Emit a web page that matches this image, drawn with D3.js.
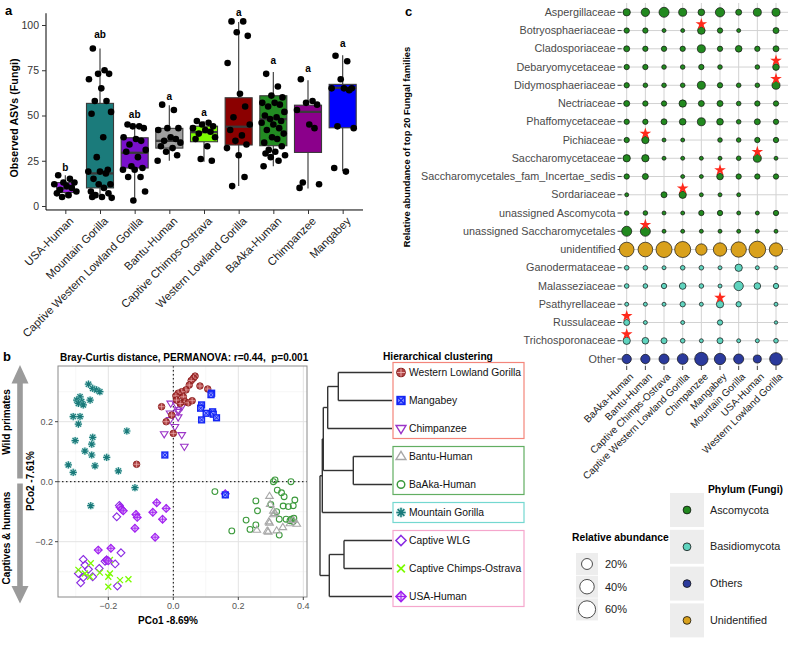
<!DOCTYPE html>
<html><head><meta charset="utf-8">
<script src="https://d3js.org/d3.v7.min.js"></script>
<style>html,body{margin:0;padding:0;background:#fff;}svg{display:block;}</style>
</head><body>
<svg id="fig" width="788" height="649" xmlns="http://www.w3.org/2000/svg"></svg>
<script>
const FONT = '"Liberation Sans", Arial, Helvetica, sans-serif';

// ================= DATA: panel a =================
const groupsA = ["USA-Human","Mountain Gorilla","Captive Western Lowland Gorilla","Bantu-Human","Captive Chimps-Ostrava","Western Lowland Gorilla","BaAka-Human","Chimpanzee","Mangabey"];
const q1A  = [7.5, 10, 21, 32, 35.5, 33.7, 33.3, 29.6, 43.2];
const medA = [9.7, 18, 29.4, 36, 40.8, 43.8, 48, 52, 65.3];
const q3A  = [12.9, 56.7, 37.7, 42.9, 44.1, 59.8, 60.9, 55.7, 67.2];
const loA  = [5, 5, 2.5, 25, 24.5, 11, 22, 9.7, 19.3];
const hiA  = [17, 87, 45.6, 55.7, 47, 101.7, 74, 69.5, 83.3];
const lettersA = ["b","ab","ab","a","a","a","a","a","a"];
const letterYA = [21.5, 95, 51, 61, 52, 107, 80.6, 76, 89.8];
const pointsA = [
  [17, 15, 13, 13, 12, 11, 10, 9, 8, 7, 6, 5],
  [87, 75, 73, 73, 70, 65, 58, 58, 52, 51, 38, 27, 20, 19, 19, 18, 15, 12, 12, 10, 8, 7, 6, 5, 5, 4.5],
  [45, 44, 44, 43, 38, 37, 36, 34, 31, 30, 27, 22, 21, 20, 20, 16, 16, 8, 3],
  [56, 53, 43, 43, 42, 38, 37, 36, 35, 33, 32, 30, 28, 25],
  [47, 46, 45, 44, 43, 42, 41, 40, 38, 37, 33, 26, 25],
  [102, 102, 96, 94, 79, 62, 55, 49, 45, 42, 39, 36, 34, 32, 28, 16, 11],
  [73, 66, 61, 60, 57, 57, 56, 55, 52, 50, 49, 48, 47, 46, 45, 43, 42, 40, 38, 37, 35, 33, 31, 30, 29, 28, 27, 25, 22],
  [70, 58, 57, 56, 53, 45, 43, 13, 12, 10],
  [83, 80, 70, 65, 65, 65, 64, 44, 43, 21, 19]
];
const yTicksA = [0, 25, 50, 75, 100];

// ================= DATA: panel b =================
const pcoaGroups = ["Western Lowland Gorilla","Mangabey","Chimpanzee","Bantu-Human","BaAka-Human","Mountain Gorilla","Captive WLG","Captive Chimps-Ostrava","USA-Human"];
const ptsWLG = [[0.067,0.352],[0.062,0.345],[0.055,0.337],[0.049,0.322],[0.082,0.319],[0.106,0.309],[0.039,0.306],[0.026,0.300],[0.015,0.295],[0.008,0.286],[0.031,0.283],[0.036,0.267],[0.046,0.263],[0.058,0.270],[0.021,0.261],[0.010,0.272],[-0.036,0.250],[-0.005,0.222],[-0.022,0.200],[0.000,0.161],[-0.113,0.058]];
const ptsMang = [[0.118,0.295],[0.116,0.290],[0.087,0.256],[0.084,0.245],[0.101,0.228],[0.121,0.233],[0.123,0.225],[0.087,0.206],[0.133,0.213],[-0.026,0.089],[0.160,-0.044]];
const ptsChimp = [[-0.008,0.261],[0.010,0.256],[0.026,0.250],[0.015,0.239],[0.015,0.233],[-0.010,0.228],[0.015,0.215],[-0.010,0.206],[0.005,0.183],[-0.028,0.159],[0.026,0.156],[0.034,0.117]];
const ptsBantu = [[0.296,-0.048],[0.298,-0.075],[0.308,-0.097],[0.308,-0.109],[0.294,-0.133],[0.296,-0.137],[0.257,-0.161],[0.289,-0.164],[0.292,-0.167],[0.318,-0.163],[0.337,-0.152],[0.359,-0.139],[0.380,-0.141],[0.369,-0.128],[0.313,-0.105]];
const ptsBaAka = [[0.313,0.006],[0.308,0.0],[0.362,0.0],[0.128,-0.033],[0.320,-0.028],[0.333,-0.037],[0.341,-0.050],[0.374,-0.061],[0.254,-0.064],[0.300,-0.076],[0.338,-0.081],[0.354,-0.083],[0.369,-0.080],[0.259,-0.097],[0.318,-0.100],[0.224,-0.128],[0.326,-0.125],[0.347,-0.125],[0.359,-0.130],[0.371,-0.122],[0.369,-0.133],[0.254,-0.144],[0.236,-0.159],[0.180,-0.164],[0.326,-0.178],[0.363,-0.125]];
const ptsMG = [[-0.261,0.325],[-0.248,0.311],[-0.236,0.306],[-0.226,0.300],[-0.287,0.283],[-0.297,0.272],[-0.282,0.267],[-0.292,0.261],[-0.277,0.256],[-0.256,0.272],[-0.308,0.217],[-0.287,0.217],[-0.292,0.192],[-0.302,0.137],[-0.248,0.148],[-0.251,0.125],[-0.272,0.102],[-0.251,0.089],[-0.323,0.056],[-0.308,0.031],[-0.241,0.053],[-0.205,0.081],[-0.143,0.169],[-0.169,0.036],[-0.118,-0.020],[-0.254,-0.080]];
const ptsCWLG = [[-0.166,-0.079],[-0.174,-0.117],[-0.161,-0.237],[-0.277,-0.259],[-0.272,-0.278],[-0.261,-0.292],[-0.292,-0.306],[-0.277,-0.319],[-0.248,-0.317],[-0.228,-0.289],[-0.205,-0.261],[-0.210,-0.265],[-0.179,-0.274],[-0.285,-0.337],[-0.172,-0.348]];
const ptsCChimp = [[-0.254,-0.272],[-0.292,-0.294],[-0.272,-0.306],[-0.256,-0.317],[-0.226,-0.303],[-0.195,-0.306],[-0.200,-0.317],[-0.164,-0.328],[-0.138,-0.325],[-0.200,-0.350],[-0.195,-0.261]];
const ptsUSA = [[-0.051,-0.070],[-0.022,-0.089],[-0.063,-0.102],[-0.033,-0.125],[-0.115,-0.109],[-0.111,-0.119],[-0.118,-0.155],[-0.056,-0.185],[-0.164,-0.085],[-0.159,-0.092],[-0.154,-0.097],[-0.231,-0.228],[-0.192,-0.222],[-0.205,-0.261],[-0.200,-0.264],[0.160,-0.040]];
const xTicksB = [-0.2, 0.0, 0.2, 0.4];
const yTicksB = [-0.2, 0.0, 0.2];
// dendrogram (heights in arbitrary distance units)
const dendroTree = {h:0.72, children:[
  {h:0.697, children:[
    {h:0.687, children:[
      {h:0.643, children:[{h:0.537, children:[{name:"Western Lowland Gorilla"},{name:"Mangabey"}]},{name:"Chimpanzee"}]},
      {h:0.387, children:[{name:"Bantu-Human"},{name:"BaAka-Human"}]}
    ]},
    {name:"Mountain Gorilla"}
  ]},
  {h:0.627, children:[{h:0.48, children:[{name:"Captive WLG"},{name:"Captive Chimps-Ostrava"}]},{name:"USA-Human"}]}
]};
const clusterGroups = [[0,2],[3,4],[5,5],[6,8]];

// ================= DATA: panel c =================
const familiesC = ["Aspergillaceae","Botryosphaeriaceae","Cladosporiaceae","Debaryomycetaceae","Didymosphaeriaceae","Nectriaceae","Phaffomycetaceae","Pichiaceae","Saccharomycetaceae","Saccharomycetales_fam_Incertae_sedis","Sordariaceae","unassigned Ascomycota","unassigned Saccharomycetales","unidentified","Ganodermataceae","Malasseziaceae","Psathyrellaceae","Russulaceae","Trichosporonaceae","Other"];
const phylumC = ["Ascomycota","Ascomycota","Ascomycota","Ascomycota","Ascomycota","Ascomycota","Ascomycota","Ascomycota","Ascomycota","Ascomycota","Ascomycota","Ascomycota","Ascomycota","Unidentified","Basidiomycota","Basidiomycota","Basidiomycota","Basidiomycota","Basidiomycota","Others"];
const hostsC = ["BaAka-Human","Bantu-Human","Captive Chimps-Ostrava","Captive Western Lowland Gorilla","Chimpanzee","Mangabey","Mountain Gorilla","USA-Human","Western Lowland Gorilla"];
const abundanceC = [
  [6.7, 9.7, 16, 8.6, 5, 13, 3.6, 8.6, 8.6],
  [2.4, 2.4, 0.7, 0.7, 7.5, 2.4, 0.7, null, 3.6],
  [3.6, 2.4, 2.4, 2.4, 8.6, 2.4, 5, 2.4, 3.6],
  [2.4, 2.4, 1.4, 1.4, 2.4, 1.4, null, 1.4, 5],
  [2.4, 1.4, 1.4, 1.4, 8.6, 2.4, 1.4, 1.4, 8.6],
  [3.6, 2.4, 2.4, 6.7, 3.6, 3.6, 1.4, 2.4, 2.4],
  [2.4, 2.4, 3.6, 5, 8.6, 5, 1.4, 3.6, 2.4],
  [2.4, 6.7, 0.7, 0.7, null, 1.4, 1.4, 2.4, 2.4],
  [6.7, 6.7, 0.7, 0.7, 0.7, 0.7, 1.4, 8.6, 0.7],
  [2.4, 3.6, null, 0.7, 0.7, 5, 2.4, 2.4, 2.4],
  [0.7, null, 3.6, 6.7, 0.7, 0.7, 0.7, null, null],
  [1.4, 1.4, 0.7, 0.7, 2.4, 2.4, 0.7, 0.7, 2.4],
  [16, 16, 0.7, 0.7, 0.7, 0.7, 0.7, 0.7, 0.7],
  [41, 41, 51, 51, 22, 33, 46, 56, 33],
  [1.4, 1.4, 0.7, 1.4, 1.4, 0.7, 6.7, 0.7, 0.7],
  [1.4, 1.4, 2.4, 5, 1.4, 0.7, 13, 5, 2.4],
  [0.7, 0.7, 0.7, 2.4, 0.7, 6.7, 2.4, null, 0.7],
  [3.6, 0.7, null, 0.7, null, 2.4, null, null, 0.3],
  [6.7, 5, 3.6, 1.4, 0.7, 3.6, 0.7, 0.7, 1.4],
  [13, 13, 16, 19, 33, 22, 16, 8.6, 29]
];
const starsC = [["Botryosphaeriaceae","Chimpanzee"],["Debaryomycetaceae","Western Lowland Gorilla"],["Didymosphaeriaceae","Western Lowland Gorilla"],["Pichiaceae","Bantu-Human"],["Saccharomycetaceae","USA-Human"],["Saccharomycetales_fam_Incertae_sedis","Mangabey"],["Sordariaceae","Captive Western Lowland Gorilla"],["unassigned Saccharomycetales","Bantu-Human"],["Psathyrellaceae","Mangabey"],["Russulaceae","BaAka-Human"],["Trichosporonaceae","BaAka-Human"]];
const phylaLegend = ["Ascomycota","Basidiomycota","Others","Unidentified"];
const sizeLegend = [20, 40, 60];

// ================= STYLES =================
const boxColorsA = {"USA-Human":"#A020F0","Mountain Gorilla":"#1B7B7B","Captive Western Lowland Gorilla":"#7A10CB","Bantu-Human":"#A0A0A0","Captive Chimps-Ostrava":"#7CFC00","Western Lowland Gorilla":"#8B0000","BaAka-Human":"#228B22","Chimpanzee":"#8B008B","Mangabey":"#0000FF"};
const phylumColors = {"Ascomycota":"#22891F","Basidiomycota":"#5FD3BE","Others":"#2B3A9C","Unidentified":"#D9A11C"};
const shapeOf = {"Western Lowland Gorilla":"circlePlus","Mangabey":"squareCross","Chimpanzee":"triDown","Bantu-Human":"triUp","BaAka-Human":"circle","Mountain Gorilla":"asterisk","Captive WLG":"diamond","Captive Chimps-Ostrava":"cross","USA-Human":"diamondPlus"};
const ptsOf = {"Western Lowland Gorilla":ptsWLG,"Mangabey":ptsMang,"Chimpanzee":ptsChimp,"Bantu-Human":ptsBantu,"BaAka-Human":ptsBaAka,"Mountain Gorilla":ptsMG,"Captive WLG":ptsCWLG,"Captive Chimps-Ostrava":ptsCChimp,"USA-Human":ptsUSA};
const clusterColors = ["#F4857B","#62AE62","#74D8D0","#F5A6CC"];

const svg = d3.select("#fig").attr("font-family", FONT);

function label(g, x, y, txt, opts={}) {
  const t = g.append("text").attr("x", x).attr("y", y).text(txt)
    .attr("font-size", opts.size || 10).attr("fill", opts.fill || "#000")
    .attr("font-weight", opts.bold ? "bold" : "normal")
    .attr("text-anchor", opts.anchor || "start")
    .style("white-space", "pre");
  if (opts.rotate) t.attr("transform", `rotate(${opts.rotate},${x},${y})`);
  if (opts.dy) t.attr("dy", opts.dy);
  return t;
}

// ================= PANEL A =================
const gA = svg.append("g");
const xA = d3.scalePoint().domain(groupsA).range([48, 360]).padding(0.5);
const yA = d3.scaleLinear().domain([0, 100]).range([206, 25]);
const stepA = xA.step();
const JIT = [-0.55,0.35,-0.15,0.7,-0.85,0.1,0.5,-0.4,0.85,-0.65,0.25,-0.25,0.6,-0.9,0.0,0.45,-0.5,0.8,-0.1,0.3,-0.7,0.65,-0.35,0.15,-0.6,0.9,-0.2,0.4,-0.75];

label(gA, 5, 15, "a", {size: 13, bold: true});
gA.append("line").attr("x1",46).attr("x2",46).attr("y1",yA(106.5)).attr("y2",yA(-2.2)).attr("stroke","#000").attr("stroke-width",1);
gA.append("line").attr("x1",46).attr("x2",363).attr("y1",yA(-2.2)).attr("y2",yA(-2.2)).attr("stroke","#000").attr("stroke-width",1);
const yAx = gA.append("g").attr("transform","translate(46,0)").call(d3.axisLeft(yA).tickValues(yTicksA).tickSize(4).tickPadding(3));
yAx.select(".domain").remove();
yAx.attr("font-family", FONT).attr("font-size", 10.5);
yAx.selectAll("text").attr("fill","#333");
yAx.selectAll("line").attr("stroke","#333");
const xAx = gA.append("g").attr("transform",`translate(0,${yA(-2.2)})`).call(d3.axisBottom(xA).tickSize(4).tickFormat(""));
xAx.select(".domain").remove();
xAx.selectAll("line").attr("stroke","#333");
groupsA.forEach((g,i) => {
  const cx = xA(g);
  label(gA, cx + 4, 217, g, {size: 11.3, anchor: "end", rotate: -45, fill: "#222", dy: "0.6em"});
});
label(gA, 18, 118, "Observed ASVs (Fungi)", {size: 10.7, bold: true, anchor: "middle", rotate: -90});

groupsA.forEach((g,i) => {
  const cx = xA(g);
  const w = (g === "USA-Human" ? 0.5 : 0.78) * stepA;
  gA.append("line").attr("x1",cx).attr("x2",cx).attr("y1",yA(hiA[i])).attr("y2",yA(q3A[i])).attr("stroke","#444").attr("stroke-width",1.2);
  gA.append("line").attr("x1",cx).attr("x2",cx).attr("y1",yA(q1A[i])).attr("y2",yA(loA[i])).attr("stroke","#444").attr("stroke-width",1.2);
  gA.append("rect").attr("x",cx-w/2).attr("y",yA(q3A[i])).attr("width",w).attr("height",yA(q1A[i])-yA(q3A[i]))
    .attr("fill",boxColorsA[g]).attr("stroke","#3a3a3a").attr("stroke-width",1.1);
  gA.append("line").attr("x1",cx-w/2).attr("x2",cx+w/2).attr("y1",yA(medA[i])).attr("y2",yA(medA[i])).attr("stroke","#3a3a3a").attr("stroke-width",2.3);
  pointsA[i].forEach((v,j) => {
    gA.append("circle").attr("cx", cx + JIT[j % JIT.length]*13).attr("cy", yA(v)).attr("r",3.3).attr("fill","#000");
  });
  label(gA, cx, yA(letterYA[i]) + 4, lettersA[i], {size: 10, bold: true, anchor: "middle"});
});

// ================= PANEL B =================
const gB = svg.append("g");
const xB = d3.scaleLinear().domain([-0.2, 0.4]).range([108.3, 303.3]);
const yB = d3.scaleLinear().domain([-0.2, 0.2]).range([541.7, 421.7]);
const PB = {l:58, r:307, t:366, b:597};
label(gB, 3, 361, "b", {size: 13, bold: true});
label(gB, 60, 361, "Bray-Curtis distance, PERMANOVA: r=0.44,  p=0.001", {size: 10, bold: true});
gB.append("rect").attr("x",PB.l).attr("y",PB.t).attr("width",PB.r-PB.l).attr("height",PB.b-PB.t).attr("fill","#fff");
const minorX = [-0.3,-0.1,0.1,0.3], minorY = [-0.3,-0.1,0.1,0.3];
minorX.forEach(v => gB.append("line").attr("x1",xB(v)).attr("x2",xB(v)).attr("y1",PB.t).attr("y2",PB.b).attr("stroke","#f0f0f0").attr("stroke-width",0.6));
minorY.forEach(v => gB.append("line").attr("y1",yB(v)).attr("y2",yB(v)).attr("x1",PB.l).attr("x2",PB.r).attr("stroke","#f0f0f0").attr("stroke-width",0.6));
xTicksB.forEach(v => gB.append("line").attr("x1",xB(v)).attr("x2",xB(v)).attr("y1",PB.t).attr("y2",PB.b).attr("stroke","#e3e3e3").attr("stroke-width",1));
yTicksB.forEach(v => gB.append("line").attr("y1",yB(v)).attr("y2",yB(v)).attr("x1",PB.l).attr("x2",PB.r).attr("stroke","#e3e3e3").attr("stroke-width",1));
gB.append("line").attr("x1",xB(0)).attr("x2",xB(0)).attr("y1",PB.t).attr("y2",PB.b).attr("stroke","#000").attr("stroke-dasharray","1.5,2.5");
gB.append("line").attr("y1",yB(0)).attr("y2",yB(0)).attr("x1",PB.l).attr("x2",PB.r).attr("stroke","#000").attr("stroke-dasharray","1.5,2.5");
gB.append("rect").attr("x",PB.l).attr("y",PB.t).attr("width",PB.r-PB.l).attr("height",PB.b-PB.t).attr("fill","none").attr("stroke","#8a8a8a").attr("stroke-width",1);
xTicksB.forEach(v => {
  gB.append("line").attr("x1",xB(v)).attr("x2",xB(v)).attr("y1",PB.b).attr("y2",PB.b+3).attr("stroke","#444");
  label(gB, xB(v), PB.b+12, d3.format(".1f")(v), {size: 9, anchor: "middle", fill: "#555"});
});
yTicksB.forEach(v => {
  gB.append("line").attr("x1",PB.l-3).attr("x2",PB.l).attr("y1",yB(v)).attr("y2",yB(v)).attr("stroke","#444");
  label(gB, PB.l-5, yB(v)+3.2, d3.format(".1f")(v), {size: 9, anchor: "end", fill: "#555"});
});
label(gB, 168, 624, "PCo1 -8.69%", {size: 10, bold: true, anchor: "middle"});
label(gB, 34, 481, "PCo2 -7.61%", {size: 10, bold: true, anchor: "middle", rotate: -90});

// arrows
gB.append("path").attr("fill","#9b9b9b").attr("d","M20,365 L28.5,383.5 L22.8,383.5 L22.8,478.5 L17.2,478.5 L17.2,383.5 L11.5,383.5 Z");
gB.append("path").attr("fill","#9b9b9b").attr("d","M20,603.5 L28.5,586 L22.8,586 L22.8,483.5 L17.2,483.5 L17.2,586 L11.5,586 Z");
label(gB, 10, 422, "Wild primates", {size: 10, bold: true, anchor: "middle", rotate: -90});
label(gB, 10, 538, "Captives & humans", {size: 10, bold: true, anchor: "middle", rotate: -90});

function drawShape(g, type, x, y, s) {
  const c = g.append("g").attr("transform",`translate(${x},${y}) scale(${s})`);
  switch (type) {
    case "circlePlus":
      c.append("circle").attr("r",3.3).attr("fill","#A83030").attr("fill-opacity",0.9).attr("stroke","#861818").attr("stroke-width",0.8);
      c.append("path").attr("d","M-3.1,0H3.1M0,-3.1V3.1").attr("stroke","#EDB3B3").attr("stroke-width",0.7);
      break;
    case "squareCross":
      c.append("rect").attr("x",-2.9).attr("y",-2.9).attr("width",5.8).attr("height",5.8).attr("fill","#8C96FF").attr("stroke","#1426F5").attr("stroke-width",1.4);
      c.append("path").attr("d","M-2.9,-2.9L2.9,2.9M2.9,-2.9L-2.9,2.9").attr("stroke","#1426F5").attr("stroke-width",1);
      break;
    case "triDown":
      c.append("path").attr("d","M-3.8,-2.3L3.8,-2.3L0,3.9Z").attr("fill","none").attr("stroke","#9B35C8").attr("stroke-width",1.1);
      break;
    case "triUp":
      c.append("path").attr("d","M-3.8,2.3L3.8,2.3L0,-3.9Z").attr("fill","none").attr("stroke","#A8A8A8").attr("stroke-width",1.1);
      break;
    case "circle":
      c.append("circle").attr("r",2.9).attr("fill","none").attr("stroke","#3C9A3C").attr("stroke-width",1.1);
      break;
    case "asterisk":
      c.append("circle").attr("r",3.8).attr("fill","#8FD0CC").attr("fill-opacity",0.45);
      c.append("path").attr("d","M-3.6,0H3.6M0,-3.6V3.6M-2.6,-2.6L2.6,2.6M2.6,-2.6L-2.6,2.6").attr("stroke","#1A7A7A").attr("stroke-width",1.2);
      break;
    case "diamond":
      c.append("path").attr("d","M0,-3.9L3.9,0L0,3.9L-3.9,0Z").attr("fill","none").attr("stroke","#8A2BE2").attr("stroke-width",1.15);
      break;
    case "cross":
      c.append("path").attr("d","M-3,-3L3,3M3,-3L-3,3").attr("stroke","#7CFC00").attr("stroke-width",1.3);
      break;
    case "diamondPlus":
      c.append("path").attr("d","M0,-3.9L3.9,0L0,3.9L-3.9,0Z").attr("fill","#D9A6F7").attr("fill-opacity",0.6).attr("stroke","#A020F0").attr("stroke-width",1.15);
      c.append("path").attr("d","M-3.9,0H3.9M0,-3.9V3.9").attr("stroke","#A020F0").attr("stroke-width",0.9);
      break;
  }
}
const drawOrder = ["BaAka-Human","Bantu-Human","Mountain Gorilla","Captive WLG","Captive Chimps-Ostrava","USA-Human","Chimpanzee","Western Lowland Gorilla","Mangabey"];
const gPts = gB.append("g");
drawOrder.forEach(grp => ptsOf[grp].forEach(p => drawShape(gPts, shapeOf[grp], xB(p[0]), yB(p[1]), 1)));

// dendrogram
const root = d3.hierarchy(dendroTree);
const leaves = root.leaves();
const leafY = d3.scalePoint().domain(leaves.map(d => d.data.name)).range([372.5, 596.5]);
const xD = d3.scaleLinear().domain([0, 0.72]).range([392, 320]);
root.eachAfter(n => {
  if (!n.children) { n.py = leafY(n.data.name); n.px = xD(0); }
  else { n.py = (n.children[0].py + n.children[n.children.length-1].py) / 2; n.px = xD(n.data.h); }
});
const gD = gB.append("g").attr("stroke","#333").attr("stroke-width",1.4).attr("fill","none");
root.each(n => {
  if (!n.children) return;
  gD.append("line").attr("x1",n.px).attr("x2",n.px).attr("y1",n.children[0].py).attr("y2",n.children[n.children.length-1].py);
  n.children.forEach(ch => gD.append("line").attr("x1",n.px).attr("x2",ch.px).attr("y1",ch.py).attr("y2",ch.py));
});
label(gB, 383, 360, "Hierarchical clustering", {size: 10.2, bold: true});
clusterGroups.forEach((cg,k) => {
  const y0 = leafY(pcoaGroups[cg[0]]) - 10, y1 = leafY(pcoaGroups[cg[1]]) + 10;
  gB.append("rect").attr("x",393).attr("y",y0).attr("width",131).attr("height",y1-y0).attr("fill","#fff").attr("stroke",clusterColors[k]).attr("stroke-width",1.2);
});
pcoaGroups.forEach(grp => {
  const y = leafY(grp);
  drawShape(gB, shapeOf[grp], 401, y, 1.3);
  label(gB, 409, y + 3.7, grp, {size: 10.3, fill: "#111"});
});

// ================= PANEL C =================
const gC = svg.append("g");
const xC = d3.scalePoint().domain(hostsC).range([626.7, 776]);
const yC = d3.scalePoint().domain(familiesC).range([12.3, 359]);
const rC = d3.scaleSqrt().domain([0, 60]).range([1.2, 8.6]);
label(gC, 405, 16, "c", {size: 13, bold: true});
familiesC.forEach(f => {
  gC.append("line").attr("x1",621.7).attr("x2",788).attr("y1",yC(f)).attr("y2",yC(f)).attr("stroke","#d2d2d2").attr("stroke-width",1);
  gC.append("line").attr("x1",617.5).attr("x2",621.7).attr("y1",yC(f)).attr("y2",yC(f)).attr("stroke","#444");
  label(gC, 615.5, yC(f) + 3.7, f, {size: 10.8, anchor: "end", fill: "#4a4a4a"});
});
hostsC.forEach(h => {
  gC.append("line").attr("y1",3).attr("y2",366).attr("x1",xC(h)).attr("x2",xC(h)).attr("stroke","#d2d2d2").attr("stroke-width",1);
  gC.append("line").attr("y1",366).attr("y2",370).attr("x1",xC(h)).attr("x2",xC(h)).attr("stroke","#444");
  label(gC, xC(h) + 3, 373, h, {size: 10, anchor: "end", rotate: -45, fill: "#222", dy: "0.6em"});
});
label(gC, 410, 147, "Relative abundance of top 20 Fungal families", {size: 9.4, bold: true, anchor: "middle", rotate: -90});
abundanceC.forEach((row, i) => row.forEach((v, j) => {
  if (v == null) return;
  gC.append("circle").attr("cx", xC(hostsC[j])).attr("cy", yC(familiesC[i])).attr("r", rC(v))
    .attr("fill", phylumColors[phylumC[i]]).attr("stroke","#111").attr("stroke-width",0.7);
}));
const starSym = d3.symbol(d3.symbolStar, 42);
starsC.forEach(([f,h]) => {
  gC.append("path").attr("d", starSym()).attr("transform",`translate(${xC(h)},${yC(f)-6.5})`).attr("fill","#FF2A1C");
});

// size legend
label(gC, 572, 541, "Relative abundance", {size: 10.3, bold: true});
sizeLegend.forEach((v,k) => {
  const cy = 564 + k*22.7;
  gC.append("rect").attr("x",576).attr("y",cy-11).attr("width",22).attr("height",22).attr("fill","#EDEDED");
  gC.append("circle").attr("cx",587).attr("cy",cy).attr("r",rC(v)).attr("fill","#fff").attr("stroke","#222").attr("stroke-width",0.8);
  label(gC, 605, cy + 4, v + "%", {size: 11, fill: "#222"});
});
// phylum legend
label(gC, 708, 493, "Phylum (Fungi)", {size: 10.3, bold: true});
phylaLegend.forEach((p,k) => {
  const top = 493 + k*36.8;
  gC.append("rect").attr("x",670).attr("y",top).attr("width",34).attr("height",34).attr("fill","#EDEDED");
  gC.append("circle").attr("cx",687).attr("cy",top+17).attr("r",3.9).attr("fill",phylumColors[p]).attr("stroke","#111").attr("stroke-width",0.8);
  label(gC, 710, top + 20.5, p, {size: 10.8, fill: "#222"});
});
</script></body></html>
